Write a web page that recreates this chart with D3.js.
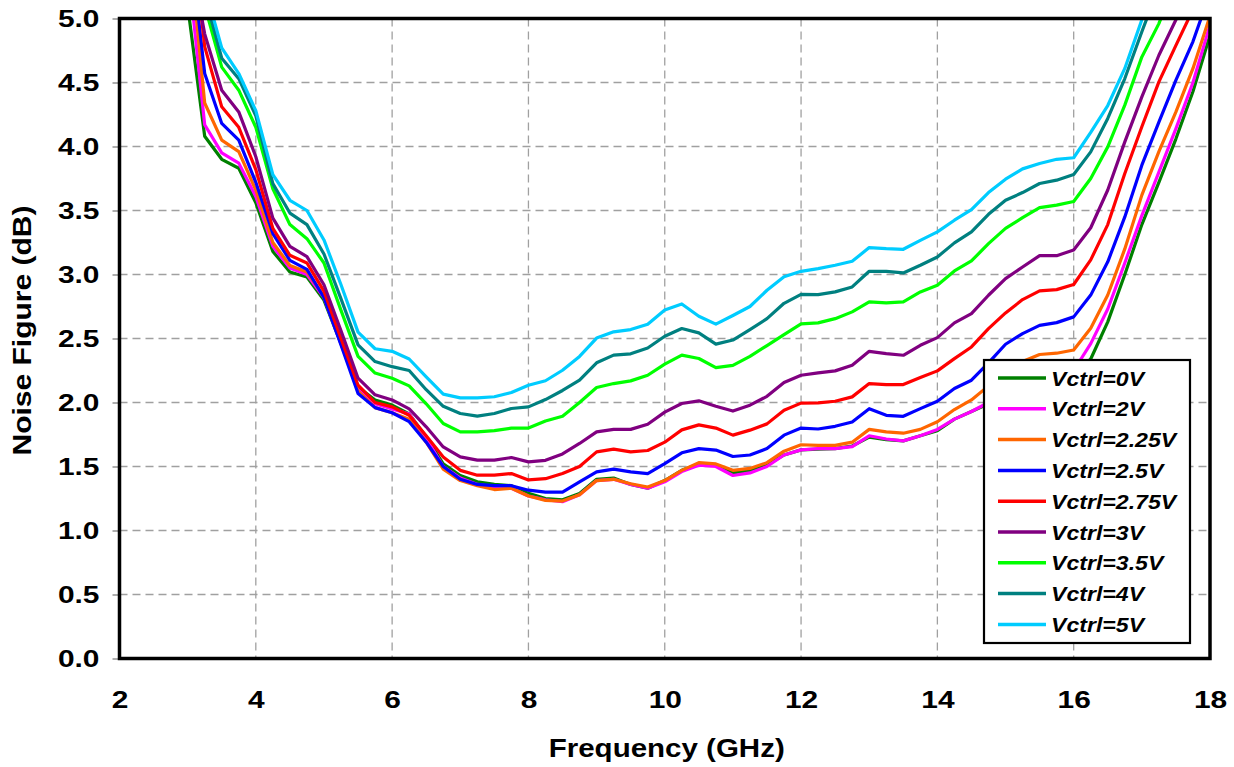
<!DOCTYPE html>
<html><head><meta charset="utf-8">
<script src="https://cdn.jsdelivr.net/npm/d3@7"></script>
<style>
body{margin:0;background:#fff;}
text{font-family:"Liberation Sans",Arial,sans-serif;}
</style></head><body>
<svg id="chart" width="1234" height="767"></svg>
<script>
const freqGHz = [3.0,3.25,3.5,3.75,4.0,4.25,4.5,4.75,5.0,5.25,5.5,5.75,6.0,6.25,6.5,6.75,7.0,7.25,7.5,7.75,8.0,8.25,8.5,8.75,9.0,9.25,9.5,9.75,10.0,10.25,10.5,10.75,11.0,11.25,11.5,11.75,12.0,12.25,12.5,12.75,13.0,13.25,13.5,13.75,14.0,14.25,14.5,14.75,15.0,15.25,15.5,15.75,16.0,16.25,16.5,16.75,17.0,17.25,17.5,17.75,18.0];

const nf_0V   = [5.10,4.08,3.90,3.83,3.56,3.18,3.02,2.98,2.80,2.46,2.12,2.02,1.98,1.91,1.73,1.52,1.43,1.38,1.36,1.35,1.29,1.25,1.24,1.29,1.40,1.41,1.36,1.33,1.39,1.47,1.52,1.51,1.45,1.47,1.51,1.59,1.63,1.635,1.64,1.66,1.73,1.71,1.70,1.74,1.78,1.87,1.93,1.99,2.07,2.13,2.17,2.19,2.21,2.34,2.63,3.00,3.39,3.72,4.06,4.43,4.87];
const nf_2V   = [5.43,4.17,3.95,3.87,3.61,3.22,3.05,3.00,2.82,2.46,2.10,1.99,1.95,1.91,1.72,1.50,1.41,1.36,1.34,1.33,1.27,1.24,1.225,1.28,1.39,1.40,1.36,1.33,1.38,1.46,1.51,1.50,1.43,1.45,1.50,1.59,1.63,1.64,1.64,1.655,1.74,1.715,1.70,1.74,1.79,1.87,1.93,2.00,2.09,2.15,2.19,2.21,2.25,2.46,2.73,3.09,3.46,3.80,4.14,4.50,4.95];
const nf_225V = [5.70,4.34,4.05,3.96,3.66,3.25,3.07,3.02,2.83,2.47,2.09,1.96,1.92,1.87,1.69,1.48,1.39,1.35,1.32,1.33,1.27,1.235,1.23,1.28,1.39,1.40,1.365,1.34,1.39,1.47,1.53,1.52,1.47,1.485,1.53,1.62,1.67,1.665,1.665,1.69,1.79,1.77,1.76,1.79,1.85,1.945,2.02,2.13,2.24,2.32,2.375,2.385,2.41,2.58,2.84,3.20,3.62,3.96,4.27,4.61,5.02];
const nf_25V  = [5.76,4.57,4.18,4.05,3.72,3.32,3.11,3.04,2.82,2.45,2.07,1.96,1.92,1.85,1.69,1.50,1.40,1.36,1.35,1.35,1.315,1.30,1.30,1.38,1.458,1.48,1.458,1.445,1.523,1.607,1.64,1.628,1.578,1.59,1.64,1.745,1.80,1.793,1.814,1.848,1.952,1.90,1.892,1.952,2.01,2.109,2.174,2.309,2.455,2.538,2.603,2.624,2.669,2.839,3.099,3.45,3.854,4.19,4.518,4.82,5.2];
const nf_275V = [6.0,4.78,4.31,4.15,3.82,3.36,3.15,3.09,2.87,2.50,2.135,2.00,1.966,1.90,1.74,1.575,1.47,1.432,1.432,1.445,1.395,1.405,1.445,1.50,1.614,1.636,1.614,1.625,1.69,1.786,1.825,1.80,1.745,1.784,1.833,1.94,1.995,1.997,2.01,2.044,2.148,2.14,2.14,2.195,2.247,2.343,2.434,2.577,2.70,2.804,2.872,2.882,2.922,3.114,3.39,3.789,4.154,4.505,4.79,5.07,null];
const nf_3V   = [5.6,4.88,4.44,4.27,3.92,3.44,3.22,3.14,2.92,2.56,2.19,2.06,2.02,1.95,1.81,1.653,1.575,1.55,1.55,1.57,1.536,1.548,1.598,1.68,1.77,1.79,1.79,1.83,1.925,1.992,2.013,1.971,1.933,1.979,2.048,2.157,2.213,2.231,2.247,2.291,2.40,2.382,2.369,2.447,2.507,2.622,2.695,2.838,2.968,3.059,3.147,3.147,3.192,3.365,3.66,4.036,4.388,4.713,4.99,5.3,null];
const nf_35V  = [6.0,5.10,4.62,4.44,4.15,3.67,3.39,3.28,3.09,2.72,2.36,2.23,2.19,2.13,1.99,1.836,1.77,1.77,1.78,1.80,1.80,1.855,1.893,2.0,2.117,2.148,2.169,2.213,2.30,2.37,2.344,2.272,2.29,2.36,2.445,2.53,2.614,2.622,2.655,2.708,2.786,2.778,2.786,2.864,2.916,3.028,3.106,3.241,3.36,3.444,3.522,3.542,3.57,3.75,3.997,4.323,4.70,4.96,5.3,null,null];
const nf_4V   = [6.0,5.18,4.69,4.53,4.24,3.71,3.48,3.39,3.16,2.81,2.45,2.32,2.28,2.25,2.10,1.97,1.914,1.893,1.914,1.953,1.966,2.023,2.094,2.174,2.31,2.37,2.38,2.426,2.518,2.578,2.544,2.456,2.488,2.57,2.655,2.775,2.845,2.843,2.864,2.903,3.025,3.025,3.012,3.072,3.137,3.247,3.333,3.47,3.58,3.64,3.711,3.737,3.781,3.958,4.219,4.531,4.896,5.25,null,null,null];
const nf_5V   = [6.0,5.25,4.77,4.57,4.28,3.78,3.58,3.50,3.27,2.92,2.55,2.42,2.40,2.34,2.20,2.065,2.036,2.036,2.045,2.078,2.135,2.17,2.252,2.36,2.503,2.552,2.57,2.612,2.723,2.77,2.674,2.612,2.68,2.75,2.877,2.983,3.025,3.046,3.072,3.103,3.21,3.202,3.197,3.267,3.333,3.424,3.507,3.64,3.745,3.825,3.867,3.90,3.912,4.11,4.32,4.61,4.99,5.4,null,null,null];

const seriesNames  = ["Vctrl=0V","Vctrl=2V","Vctrl=2.25V","Vctrl=2.5V","Vctrl=2.75V","Vctrl=3V","Vctrl=3.5V","Vctrl=4V","Vctrl=5V"];
const seriesValues = [nf_0V,nf_2V,nf_225V,nf_25V,nf_275V,nf_3V,nf_35V,nf_4V,nf_5V];
const seriesColors = ["#008000","#FF00FF","#FF6600","#0000FF","#FF0000","#800080","#00FF00","#008080","#00CCFF"];

const xTicks = [2,4,6,8,10,12,14,16,18];
const yTicks = [0,0.5,1,1.5,2,2.5,3,3.5,4,4.5,5];

const svg = d3.select("#chart");
const L = 119.5, R = 1210, T = 18.5, B = 658.5;
const x = d3.scaleLinear().domain([2,18]).range([L,R]);
const y = d3.scaleLinear().domain([0,5]).range([B,T]);

function stretch(sel, k){
  sel.each(function(){
    const w = this.getComputedTextLength();
    d3.select(this).attr("textLength", w*k).attr("lengthAdjust","spacingAndGlyphs");
  });
}

// grid
const grid = svg.append("g").attr("stroke","#a0a0a0").attr("stroke-width",1.3).attr("stroke-dasharray","8,5");
grid.selectAll("line.h").data(yTicks.slice(1,-1)).join("line")
  .attr("x1",L).attr("x2",R).attr("y1",d=>y(d)).attr("y2",d=>y(d));
grid.selectAll("line.v").data(xTicks.slice(1,-1)).join("line")
  .attr("y1",T).attr("y2",B).attr("x1",d=>x(d)).attr("x2",d=>x(d));

// clip
svg.append("clipPath").attr("id","plotclip").append("rect")
  .attr("x",L).attr("y",T).attr("width",R-L).attr("height",B-T);

const line = d3.line()
  .defined(d => d[1] != null)
  .x(d => x(d[0])).y(d => y(d[1]));

const lines = svg.append("g").attr("clip-path","url(#plotclip)");
seriesValues.forEach((vals,i)=>{
  lines.append("path")
    .datum(freqGHz.map((f,j)=>[f,vals[j]]))
    .attr("fill","none")
    .attr("stroke",seriesColors[i])
    .attr("stroke-width",3.2)
    .attr("stroke-linejoin","round")
    .attr("d",line);
});

// axes
const yAxis = svg.append("g").attr("transform",`translate(${L},0)`)
  .call(d3.axisLeft(y).tickValues(yTicks).tickFormat(d3.format(".1f")).tickSize(7).tickPadding(13));
yAxis.select(".domain").remove();
yAxis.selectAll(".tick line").attr("stroke","#808080").attr("stroke-width",1.3);
yAxis.selectAll("text").attr("font-size",23).attr("font-weight","bold").attr("fill","#000").attr("dy","0.36em");
stretch(yAxis.selectAll("text"),1.3);

const xAxis = svg.append("g").attr("transform",`translate(0,${B})`)
  .call(d3.axisBottom(x).tickValues(xTicks).tickFormat(d3.format("d")).tickSize(0).tickPadding(33));
xAxis.select(".domain").remove();
xAxis.selectAll("text").attr("font-size",23).attr("font-weight","bold").attr("fill","#000");
stretch(xAxis.selectAll("text"),1.3);

// border
svg.append("rect").attr("x",L).attr("y",T).attr("width",R-L).attr("height",B-T)
  .attr("fill","none").attr("stroke","#000").attr("stroke-width",3.5);

// axis titles
const xt = svg.append("text").attr("x",(L+R)/2+2).attr("y",757).attr("text-anchor","middle")
  .attr("font-size",25).attr("font-weight","bold").text("Frequency (GHz)");
stretch(xt,1.18);
const yt = svg.append("text").attr("transform",`translate(31,${(T+B)/2-8}) rotate(-90)`).attr("text-anchor","middle")
  .attr("font-size",25).attr("font-weight","bold").text("Noise Figure (dB)");
stretch(yt,1.2);

// legend
const lg = svg.append("g");
const lx = 984, ly = 360, lw = 206, lh = 283;
lg.append("rect").attr("x",lx).attr("y",ly).attr("width",lw).attr("height",lh)
  .attr("fill","#fff").attr("stroke","#000").attr("stroke-width",2.2);
seriesNames.forEach((n,i)=>{
  const yy = ly + 18 + i*30.8;
  lg.append("line").attr("x1",lx+14).attr("x2",lx+62).attr("y1",yy).attr("y2",yy)
    .attr("stroke",seriesColors[i]).attr("stroke-width",3.5);
  const t = lg.append("text").attr("x",lx+67).attr("y",yy+7.5).attr("font-size",21)
    .attr("font-weight","bold").attr("font-style","italic").text(n);
  stretch(t,1.1);
});
</script>
</body></html>
